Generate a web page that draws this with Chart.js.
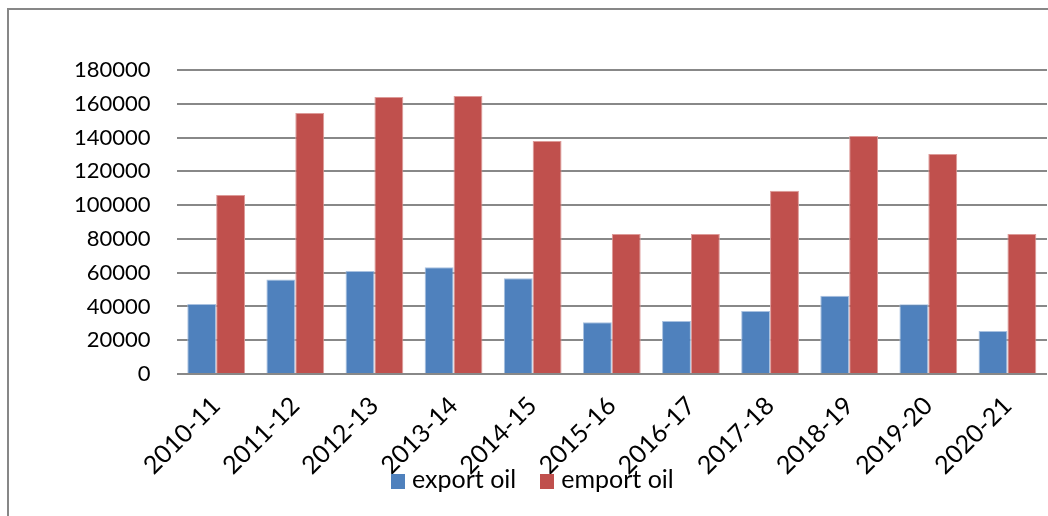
<!DOCTYPE html>
<html>
<head>
<meta charset="utf-8">
<script src="https://cdn.jsdelivr.net/npm/chart.js@4.4.1/dist/chart.umd.min.js"></script>
<style>
  html, body { margin: 0; padding: 0; background: #fff; overflow: hidden; }
  #wrap   { position: relative; width: 1048px; height: 516px; }
  #frame  { position: absolute; left: 7px; top: 8px; width: 1100px; height: 600px;
            border-left: 2px solid #878787; border-top: 2px solid #878787; }
  #legend { position: absolute; left: 391px; top: 463px; white-space: nowrap;
            font-family: Lato, sans-serif; font-size: 25px; color: #000; }
  #legend span.item { display: inline-block; margin-right: 24px; }
  #legend span.box  { display: inline-block; width: 14px; height: 15px; margin-right: 7px; vertical-align: -1px; }
</style>
</head>
<body>
<div id="wrap">
  <div id="frame"></div>
  <canvas id="chart" width="1048" height="516"></canvas>
  <div id="legend"></div>
</div>
<script>
// ── Data ──────────────────────────────────────────────────────────────────────
const years     = ["2010-11", "2011-12", "2012-13", "2013-14", "2014-15", "2015-16",
                   "2016-17", "2017-18", "2018-19", "2019-20", "2020-21"];
const exportOil = [41500, 56000, 61000, 63200, 56700, 30600, 31400, 37300, 46400, 41300, 25500];
const emportOil = [106000, 154500, 164000, 164600, 138000, 82900, 82900, 108500, 140900, 130300, 82900];
const yTicks    = [0, 20000, 40000, 60000, 80000, 100000, 120000, 140000, 160000, 180000];

// ── Colours ───────────────────────────────────────────────────────────────────
const C = { blue: "#4F81BD", red: "#C0504D", grid: "#888888", text: "#000000" };
const FONT = "Lato, sans-serif";

const datasets = [
    { label: "export oil", data: exportOil, backgroundColor: C.blue, borderColor: "#a9c1e0", borderWidth: 1 },
    { label: "emport oil", data: emportOil, backgroundColor: C.red,  borderColor: "#dd9a98", borderWidth: 1 },
];

// ── Chart ─────────────────────────────────────────────────────────────────────
new Chart(document.getElementById("chart").getContext("2d"), {
    type: "bar",
    data: { labels: years, datasets },
    options: {
        responsive: false,
        animation: false,
        layout: { padding: { top: 70, right: 1, bottom: 0, left: 0 } },
        datasets: { bar: { categoryPercentage: 0.73, barPercentage: 1.0 } },
        scales: {
            x: {
                grid: { display: false, drawTicks: false },
                border: { display: false },
                ticks: { color: C.text, font: { family: FONT, size: 25 }, minRotation: 45, maxRotation: 45, padding: 17 },
                afterFit: (s) => { s.height = 142; },
            },
            y: {
                min: 0,
                max: 180000,
                afterBuildTicks: (s) => { s.ticks = yTicks.map((v) => ({ value: v })); },
                grid: { color: C.grid, lineWidth: 2, drawTicks: false },
                border: { display: false },
                ticks: { color: C.text, font: { family: FONT, size: 22 }, padding: 26, callback: (v) => String(v) },
                afterFit: (s) => { s.width = 176.6; },
            },
        },
        plugins: {
            legend: { display: false },
            tooltip: { enabled: false },
        },
    },
});

// ── Legend (html, overlapping the rotated labels like the source) ─────────────
document.getElementById("legend").innerHTML = datasets
    .map((d) => `<span class="item"><span class="box" style="background:${d.backgroundColor}"></span>${d.label}</span>`)
    .join("");
</script>
</body>
</html>
